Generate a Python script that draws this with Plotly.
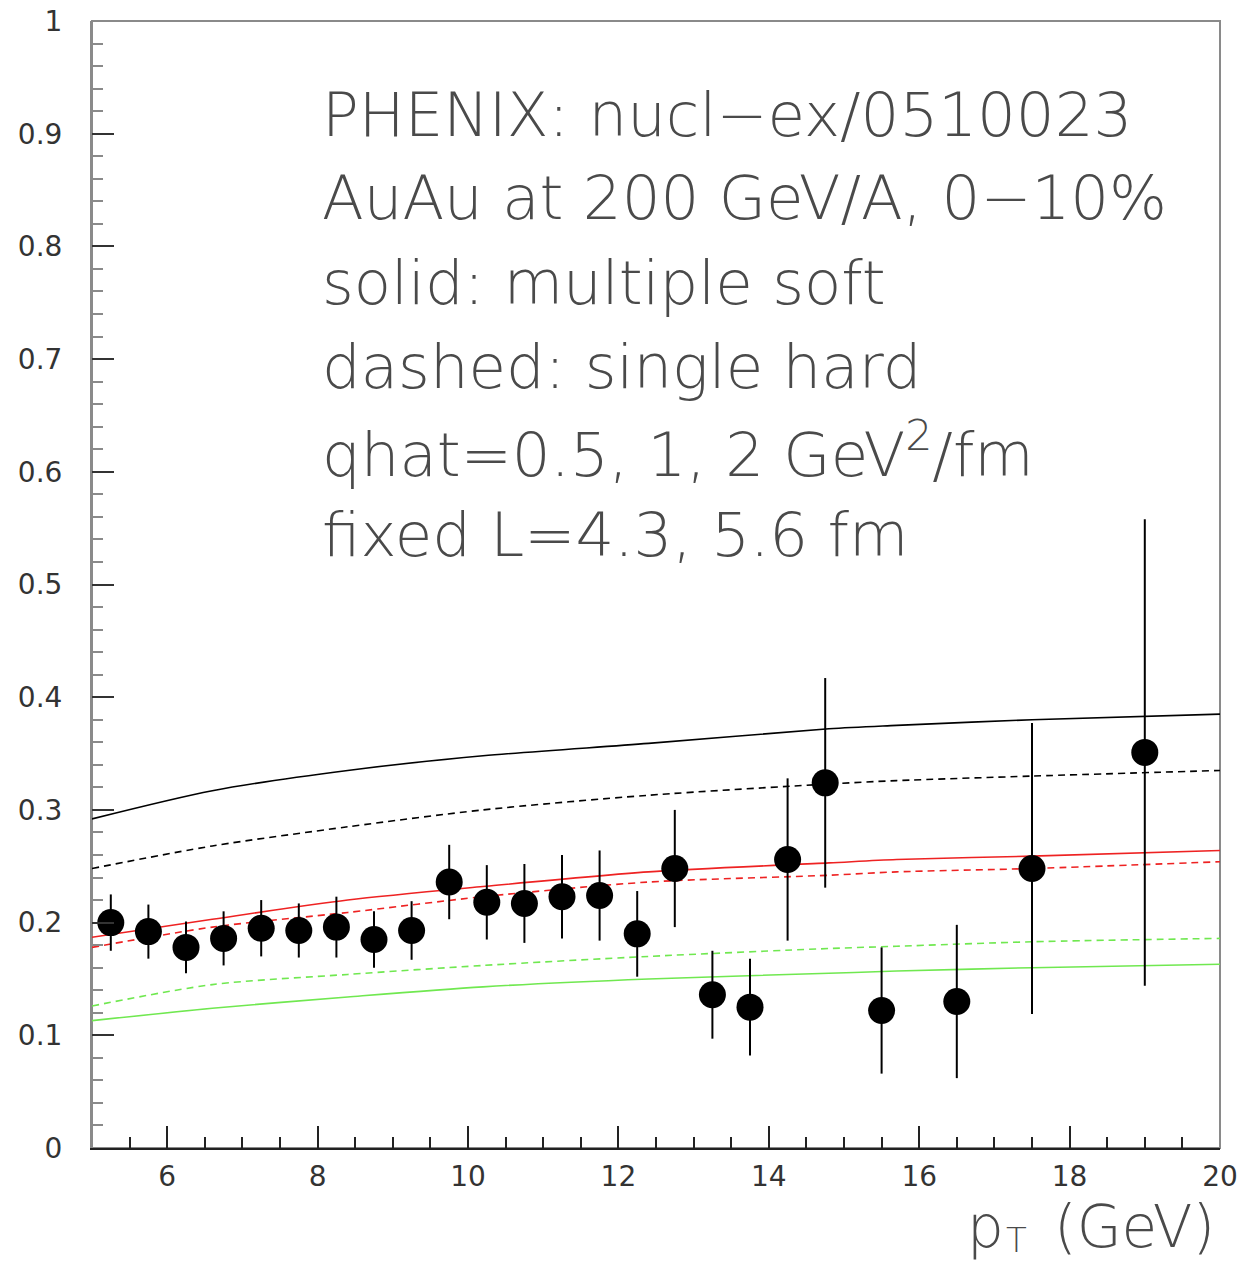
import plotly.graph_objects as go

# ---- data points (PHENIX) ----
pt = [5.25, 5.75, 6.25, 6.75, 7.25, 7.75, 8.25, 8.75, 9.25, 9.75,
      10.25, 10.75, 11.25, 11.75, 12.25, 12.75, 13.25, 13.75, 14.25, 14.75,
      15.5, 16.5, 17.5, 19.0]
val = [0.200, 0.192, 0.178, 0.186, 0.195, 0.193, 0.196, 0.185, 0.193, 0.236,
       0.218, 0.217, 0.223, 0.224, 0.190, 0.248, 0.136, 0.125, 0.256, 0.324,
       0.122, 0.130, 0.248, 0.351]
err = [0.025, 0.024, 0.023, 0.024, 0.025, 0.024, 0.027, 0.025, 0.026, 0.033,
       0.033, 0.035, 0.037, 0.040, 0.038, 0.052, 0.039, 0.043, 0.072, 0.093,
       0.056, 0.068, 0.129, 0.207]

# ---- model curves ----
x_curve = [5, 6.6, 8.4, 10.2, 12.4, 14.8, 15.7, 17.5, 20]
black_solid = [0.292, 0.317, 0.335, 0.348, 0.359, 0.372, 0.375, 0.380, 0.385]
black_dashed = [0.248, 0.268, 0.285, 0.300, 0.313, 0.323, 0.326, 0.330, 0.335]
red_solid = [0.187, 0.203, 0.220, 0.232, 0.245, 0.253, 0.256, 0.259, 0.264]
red_dashed = [0.178, 0.196, 0.209, 0.223, 0.236, 0.242, 0.245, 0.248, 0.254]
green_dashed = [0.126, 0.145, 0.154, 0.162, 0.170, 0.177, 0.179, 0.183, 0.186]
green_solid = [0.113, 0.124, 0.134, 0.143, 0.150, 0.155, 0.157, 0.160, 0.163]

y_ticks = [0, 0.1, 0.2, 0.3, 0.4, 0.5, 0.6, 0.7, 0.8, 0.9, 1]
y_ticklabels = ["0", "0.1", "0.2", "0.3", "0.4", "0.5", "0.6", "0.7", "0.8", "0.9", "1"]
x_ticks = [6, 8, 10, 12, 14, 16, 18, 20]
x_ticklabels = ["6", "8", "10", "12", "14", "16", "18", "20"]

text_lines = [
    "PHENIX: nucl\u2212ex/0510023",
    "AuAu at 200 GeV/A, 0\u221210%",
    "solid: multiple soft",
    "dashed: single hard",
    "qhat=0.5, 1, 2 GeV<sup>2</sup>/fm",
    "fixed L=4.3, 5.6 fm",
]

FONT = "DejaVu Sans"
W, H = 1245, 1264
ML, MR, MT, MB = 92, 25, 21, 116
plot_h = H - MT - MB
plot_w = W - ML - MR


def px_x(px):
    return (px - ML) / plot_w


def px_y(py):
    return (H - MB - py) / plot_h


fig = go.Figure()

curves = [
    (black_solid, "#000000", "solid"),
    (black_dashed, "#000000", "7px,5px"),
    (red_solid, "#ee2222", "solid"),
    (red_dashed, "#ee2222", "7px,5px"),
    (green_dashed, "#70e850", "7px,5px"),
    (green_solid, "#70e850", "solid"),
]
for ys, col, dash in curves:
    fig.add_trace(go.Scatter(x=x_curve, y=ys, mode="lines",
                             line=dict(color=col, width=1.6, dash=dash, shape="spline", smoothing=0.8),
                             showlegend=False, hoverinfo="skip"))

fig.add_trace(go.Scatter(
    x=pt, y=val, mode="markers",
    marker=dict(color="black", size=27, symbol="circle"),
    error_y=dict(type="data", array=err, color="black", thickness=2, width=0),
    showlegend=False))

# frame (top/right in gray)
fig.add_shape(type="rect", xref="paper", yref="paper", x0=0, x1=1, y0=0, y1=1,
              line=dict(color="#8a8a8a", width=2), layer="below")

# text block
text_centers_px = [114, 198, 282, 366, 450, 534]
for line, cy in zip(text_lines, text_centers_px):
    fig.add_annotation(x=px_x(320), y=px_y(cy),
                       xref="paper", yref="paper", xanchor="left", yanchor="middle",
                       text=line, showarrow=False,
                       font=dict(family=FONT, size=61, color="#4a4a4a", weight=300))

# x axis title: p, subscript T, (GeV)
title_font = dict(family=FONT, size=58, color="#4a4a4a", weight=300)
fig.add_annotation(x=px_x(1217), y=px_y(1227), xref="paper", yref="paper",
                   xanchor="right", yanchor="middle", text="(GeV)", showarrow=False,
                   font=title_font)
fig.add_annotation(x=px_x(1006), y=px_y(1227), xref="paper", yref="paper",
                   xanchor="right", yanchor="middle", text="p", showarrow=False,
                   font=title_font)
fig.add_annotation(x=px_x(1004), y=px_y(1240), xref="paper", yref="paper",
                   xanchor="left", yanchor="middle", text="T", showarrow=False,
                   font=dict(family=FONT, size=34, color="#4a4a4a", weight=300))

fig.update_layout(
    width=W, height=H,
    margin=dict(l=ML, r=MR, t=MT, b=MB, autoexpand=False),
    paper_bgcolor="white", plot_bgcolor="white",
    xaxis=dict(range=[5, 20], tickvals=x_ticks, ticktext=x_ticklabels,
               ticks="inside", ticklen=22, tickwidth=2, tickcolor="#222",
               showline=True, linecolor="#222", linewidth=2,
               showgrid=False, zeroline=False, automargin=False,
               minor=dict(dtick=0.5, tick0=5, ticks="inside", ticklen=11, tickwidth=2, tickcolor="#222"),
               tickfont=dict(family=FONT, size=28, color="#333"),
               ticklabelstandoff=2),
    yaxis=dict(range=[0, 1], tickvals=y_ticks, ticktext=y_ticklabels,
               ticks="inside", ticklen=22, tickwidth=2, tickcolor="#333",
               showline=True, linecolor="#8a8a8a", linewidth=2,
               showgrid=False, zeroline=False, automargin=False,
               minor=dict(dtick=0.02, tick0=0, ticks="inside", ticklen=11, tickwidth=2, tickcolor="#8a8a8a"),
               tickfont=dict(family=FONT, size=28, color="#333"),
               ticklabelstandoff=22),
)

fig.write_html("out.html")
